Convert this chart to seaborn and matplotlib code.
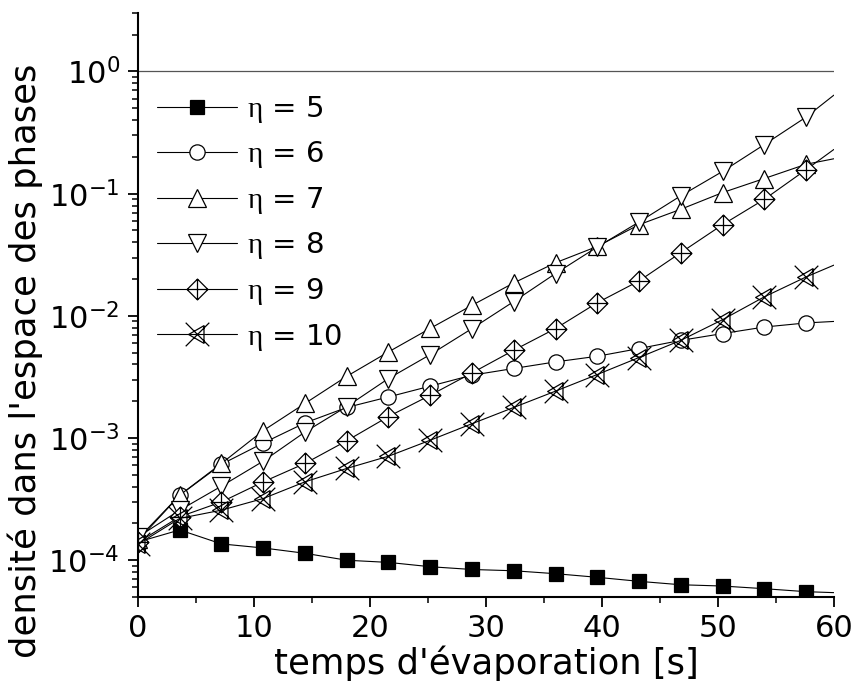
import numpy as np
import pandas as pd
import matplotlib
matplotlib.use("Agg")
import matplotlib.pyplot as plt
from matplotlib.path import Path
import seaborn as sns

# temps d'evaporation (s) : points marques + fin de courbe
temps = [0, 3.6, 7.2, 10.8, 14.4, 18, 21.6, 25.2, 28.8, 32.4, 36, 39.6, 43.2, 46.8, 50.4, 54, 57.6, 60]

eta5 = [1.41e-4, 1.77e-4, 1.36e-4, 1.26e-4, 1.14e-4, 1.0e-4, 9.6e-5, 8.85e-5, 8.4e-5, 8.2e-5,
        7.76e-5, 7.25e-5, 6.72e-5, 6.3e-5, 6.15e-5, 5.85e-5, 5.53e-5, 5.43e-5]
eta6 = [1.45e-4, 3.4e-4, 6.1e-4, 9.1e-4, 1.33e-3, 1.78e-3, 2.17e-3, 2.66e-3, 3.27e-3, 3.71e-3,
        4.2e-3, 4.67e-3, 5.4e-3, 6.3e-3, 7.16e-3, 8.1e-3, 8.75e-3, 9.0e-3]
eta7 = [1.5e-4, 3.41e-4, 6.2e-4, 1.15e-3, 1.92e-3, 3.2e-3, 5.07e-3, 7.9e-3, 1.22e-2, 1.86e-2,
        2.72e-2, 3.7e-2, 5.57e-2, 7.45e-2, 0.102, 0.133, 0.174, 0.193]
eta8 = [1.55e-4, 2.57e-4, 4.04e-4, 6.47e-4, 1.12e-3, 1.81e-3, 3.07e-3, 4.82e-3, 7.87e-3, 1.31e-2,
        2.22e-2, 3.66e-2, 5.86e-2, 9.6e-2, 0.152, 0.252, 0.423, 0.64]
eta9 = [1.4e-4, 2.27e-4, 3.0e-4, 4.38e-4, 6.2e-4, 9.5e-4, 1.5e-3, 2.24e-3, 3.41e-3, 5.23e-3,
        7.87e-3, 1.28e-2, 1.93e-2, 3.29e-2, 5.57e-2, 8.98e-2, 0.157, 0.23]
eta10 = [1.35e-4, 2.2e-4, 2.57e-4, 3.2e-4, 4.38e-4, 5.64e-4, 7.1e-4, 9.6e-4, 1.31e-3, 1.78e-3,
         2.42e-3, 3.31e-3, 4.56e-3, 6.3e-3, 9.3e-3, 1.43e-2, 2.08e-2, 2.6e-2]

noms = [r"$\mathrm{\eta}$ = 5", r"$\mathrm{\eta}$ = 6", r"$\mathrm{\eta}$ = 7",
        r"$\mathrm{\eta}$ = 8", r"$\mathrm{\eta}$ = 9", r"$\mathrm{\eta}$ = 10"]
series = [eta5, eta6, eta7, eta8, eta9, eta10]

# marqueurs speciaux (losange + croix, X + triangle)
losange_croix = Path([(0, 1), (1, 0), (0, -1), (-1, 0), (0, 1), (0, 1), (0, -1), (-1, 0), (1, 0)],
                     [Path.MOVETO, Path.LINETO, Path.LINETO, Path.LINETO, Path.CLOSEPOLY,
                      Path.MOVETO, Path.LINETO, Path.MOVETO, Path.LINETO])
x_triangle = Path([(-1, -1), (1, 1), (-1, 1), (1, -1), (-0.75, 0), (0.55, 0.75), (0.55, -0.75), (-0.75, 0)],
                  [Path.MOVETO, Path.LINETO, Path.MOVETO, Path.LINETO,
                   Path.MOVETO, Path.LINETO, Path.LINETO, Path.CLOSEPOLY])

styles = [dict(marker="s", markersize=10, markerfacecolor="black"),
          dict(marker="o", markersize=11, markerfacecolor="white"),
          dict(marker="^", markersize=13, markerfacecolor="white"),
          dict(marker="v", markersize=13, markerfacecolor="white"),
          dict(marker=losange_croix, markersize=15, markerfacecolor="white"),
          dict(marker=x_triangle, markersize=17, markerfacecolor="none")]

sns.set_style("ticks")
plt.rcParams["font.family"] = ["DejaVu Sans"]
plt.rcParams["mathtext.fontset"] = "custom"
plt.rcParams["mathtext.rm"] = "Liberation Serif"
plt.rcParams["mathtext.it"] = "Liberation Serif:italic"
plt.rcParams["axes.unicode_minus"] = False
plt.rcParams["text.color"] = "black"
plt.rcParams["axes.labelcolor"] = "black"
plt.rcParams["xtick.color"] = "black"
plt.rcParams["ytick.color"] = "black"

fig = plt.figure(figsize=(8.57, 6.93), dpi=100)
ax = fig.add_axes([0.161, 0.1385, 0.812, 0.8425])

ax.axhline(1, color="#555555", lw=0.9, zorder=1)

for nom, y, st in zip(noms, series, styles):
    df = pd.DataFrame({"t": temps, "d": y})
    n = len(temps)
    sns.lineplot(data=df, x="t", y="d", ax=ax, color="black", lw=0.8, label=nom,
                 markevery=list(range(n - 1)), markeredgecolor="black",
                 markeredgewidth=0.9, estimator=None, sort=False, **st)

ax.set_yscale("log")
ax.set_xlim(0, 60)
ax.set_ylim(5e-5, 3)
ax.set_xticks([0, 10, 20, 30, 40, 50, 60])
ax.set_xticks([5, 15, 25, 35, 45, 55], minor=True)

for s in ["top", "right"]:
    ax.spines[s].set_visible(False)
for s in ["left", "bottom"]:
    ax.spines[s].set_linewidth(1.5)
    ax.spines[s].set_color("black")
ax.tick_params(which="major", direction="out", length=7, width=1.3, labelsize=22,
               color="black", labelcolor="black")
ax.tick_params(which="minor", direction="out", length=4.5, width=1.1, color="black")
ax.tick_params(axis="y", which="major", pad=6)
ax.tick_params(axis="x", which="major", pad=5)

ax.set_xlabel("temps d'évaporation [s]", fontsize=25.5, labelpad=2, color="black")
ax.set_ylabel("densité dans l'espace des phases", fontsize=25.5, color="black")
ax.yaxis.set_label_coords(-0.137, 0.404)

leg = ax.legend(loc="upper left", bbox_to_anchor=(0.027, 0.862), frameon=False, fontsize=21,
                handlelength=2.75, handletextpad=0.35, labelspacing=0.5, borderaxespad=0, borderpad=0)
for t in leg.get_texts():
    t.set_color("black")

plt.savefig("out.png", dpi=100)
